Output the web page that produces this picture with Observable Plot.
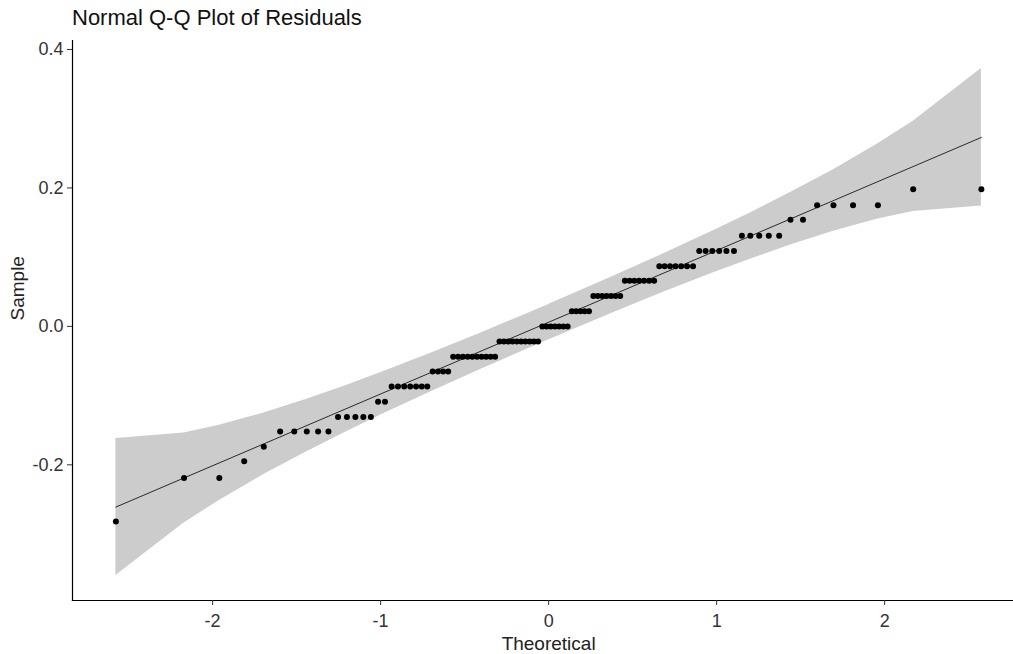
<!DOCTYPE html>
<html>
<head>
<meta charset="utf-8">
<script src="https://cdn.jsdelivr.net/npm/d3@7"></script>
<script src="https://cdn.jsdelivr.net/npm/@observablehq/plot@0.6"></script>
<style>
  html, body { margin: 0; padding: 0; background: #fff; }
  #wrap { position: relative; width: 1013px; height: 654px; font-family: "Liberation Sans", Arial, sans-serif; }
  #title { position: absolute; left: 72px; top: 5px; font-size: 22px; color: #111; white-space: nowrap; }
</style>
</head>
<body>
<div id="wrap">
  <div id="title">Normal Q-Q Plot of Residuals</div>
  <div id="chart"></div>
</div>
<script>
// Theoretical normal quantiles (x positions of the 100 points)
const theoretical = [
  -2.5758, -2.1701, -1.9600, -1.8119, -1.6954, -1.5982, -1.5141, -1.4395, -1.3722, -1.3106,
  -1.2536, -1.2004, -1.1503, -1.1031, -1.0581, -1.0152, -0.9741, -0.9346, -0.8965, -0.8596,
  -0.8239, -0.7892, -0.7554, -0.7225, -0.6903, -0.6588, -0.6280, -0.5978, -0.5681, -0.5388,
  -0.5101, -0.4817, -0.4538, -0.4261, -0.3989, -0.3719, -0.3451, -0.3186, -0.2924, -0.2663,
  -0.2404, -0.2147, -0.1891, -0.1637, -0.1383, -0.1130, -0.0878, -0.0627, -0.0376, -0.0125,
  0.0125, 0.0376, 0.0627, 0.0878, 0.1130, 0.1383, 0.1637, 0.1891, 0.2147, 0.2404,
  0.2663, 0.2924, 0.3186, 0.3451, 0.3719, 0.3989, 0.4261, 0.4538, 0.4817, 0.5101,
  0.5388, 0.5681, 0.5978, 0.6280, 0.6588, 0.6903, 0.7225, 0.7554, 0.7892, 0.8239,
  0.8596, 0.8965, 0.9346, 0.9741, 1.0152, 1.0581, 1.1031, 1.1503, 1.2004, 1.2536,
  1.3106, 1.3722, 1.4395, 1.5141, 1.5982, 1.6954, 1.8119, 1.9600, 2.1701, 2.5758
];
// Sorted sample residuals (y positions)
const sample = [
  -0.282, -0.219, -0.219, -0.195, -0.174, -0.152, -0.152, -0.152, -0.152, -0.152,
  -0.131, -0.131, -0.131, -0.131, -0.131, -0.109, -0.109, -0.087, -0.087, -0.087,
  -0.087, -0.087, -0.087, -0.087, -0.065, -0.065, -0.065, -0.065, -0.044, -0.044,
  -0.044, -0.044, -0.044, -0.044, -0.044, -0.044, -0.044, -0.044, -0.022, -0.022,
  -0.022, -0.022, -0.022, -0.022, -0.022, -0.022, -0.022, -0.022, 0.000, 0.000,
  0.000, 0.000, 0.000, 0.000, 0.000, 0.022, 0.022, 0.022, 0.022, 0.022,
  0.044, 0.044, 0.044, 0.044, 0.044, 0.044, 0.044, 0.066, 0.066, 0.066,
  0.066, 0.066, 0.066, 0.066, 0.087, 0.087, 0.087, 0.087, 0.087, 0.087,
  0.087, 0.109, 0.109, 0.109, 0.109, 0.109, 0.109, 0.131, 0.131, 0.131,
  0.131, 0.131, 0.154, 0.154, 0.175, 0.175, 0.175, 0.175, 0.198, 0.198
];
// Confidence band, read at selected theoretical positions
const bandX    = [-2.5758, -2.1701, -1.9600, -1.6954, -1.4395, -1.2004, -0.9741, -0.6903, -0.3989, -0.0125, 0.0125, 0.3989, 0.6903, 0.9741, 1.2004, 1.4395, 1.6954, 1.9600, 2.1701, 2.5758];
const bandLow  = [-0.360, -0.284, -0.2515, -0.2141, -0.1811, -0.1517, -0.1253, -0.0933, -0.0615, -0.0207, -0.0181, 0.0213, 0.0499, 0.0767, 0.0971, 0.1175, 0.1375, 0.1551, 0.1659, 0.1740];
const bandHigh = [-0.162, -0.154, -0.1429, -0.1253, -0.1054, -0.0849, -0.0645, -0.0377, -0.0091, 0.0303, 0.0329, 0.0737, 0.1055, 0.1375, 0.1639, 0.1933, 0.2263, 0.2637, 0.2964, 0.3724];
// Reference line end points
const lineX = [-2.5758, 2.5758];
const lineY = [-0.261, 0.273];
// Tick labels
const xTicks = [-2, -1, 0, 1, 2];
const yTicks = [-0.2, 0.0, 0.2, 0.4];

const points = theoretical.map((x, i) => ({x, y: sample[i]}));
const band = bandX.map((x, i) => ({x, lo: bandLow[i], hi: bandHigh[i]}));
const line = lineX.map((x, i) => ({x, y: lineY[i]}));

const chart = Plot.plot({
  width: 1013,
  height: 654,
  marginLeft: 72,
  marginRight: 0,
  marginTop: 40,
  marginBottom: 54,
  style: {fontFamily: "Liberation Sans, Arial, sans-serif", fontSize: "18px", background: "#fff", color: "#000"},
  x: {domain: [-2.834, 2.767], label: null},
  y: {domain: [-0.396, 0.413], label: null},
  marks: [
    Plot.areaY(band, {x: "x", y1: "lo", y2: "hi", fill: "#cccccc"}),
    Plot.line(line, {x: "x", y: "y", stroke: "#000", strokeWidth: 0.8}),
    Plot.dot(points, {x: "x", y: "y", r: 3, fill: "#000", stroke: "none"}),
    Plot.frame({anchor: "bottom", stroke: "#000", strokeWidth: 1.2}),
    Plot.frame({anchor: "left", stroke: "#000", strokeWidth: 1.2}),
    Plot.axisX({ticks: xTicks, tickSize: 5, tickPadding: 9, tickFormat: d => String(d), fontSize: 18, fill: "#333", stroke: "#333", label: null}),
    Plot.axisY({ticks: yTicks, tickSize: 5, tickPadding: 4, tickFormat: d => d.toFixed(1), fontSize: 18, fill: "#333", stroke: "#333", label: null}),
    Plot.text(["Theoretical"], {x: 0, frameAnchor: "bottom", dy: 49, fontSize: 19, fill: "#222"}),
    Plot.text(["Sample"], {frameAnchor: "left", dx: -55, rotate: -90, fontSize: 19, fill: "#222"})
  ]
});
document.getElementById("chart").appendChild(chart);
</script>
</body>
</html>
